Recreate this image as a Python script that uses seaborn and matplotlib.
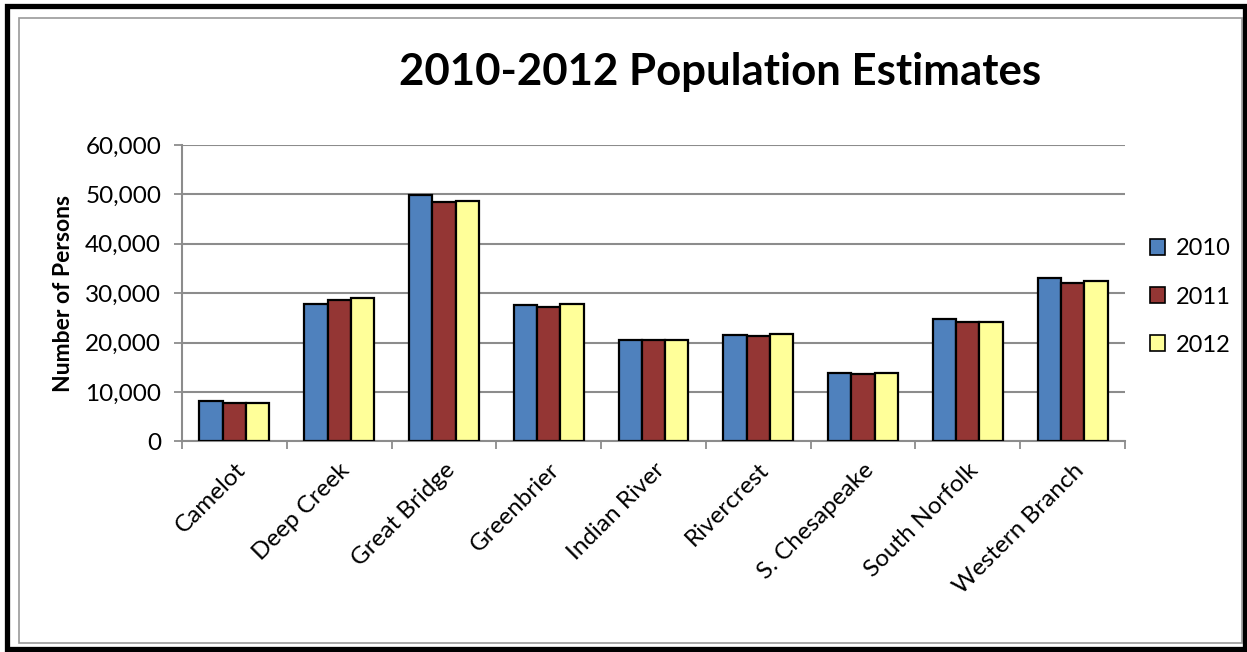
import matplotlib
matplotlib.use("Agg")
import matplotlib.pyplot as plt
from matplotlib.patches import Rectangle
from matplotlib.ticker import FuncFormatter, FixedLocator
import seaborn as sns
import pandas as pd

# Population estimates by borough, 2010-2012
boroughs = ["Camelot", "Deep Creek", "Great Bridge", "Greenbrier", "Indian River",
            "Rivercrest", "S. Chesapeake", "South Norfolk", "Western Branch"]
years = ["2010", "2011", "2012"]
pop_2010 = [8200, 27800, 49900, 27600, 20500, 21500, 13750, 24750, 33100]
pop_2011 = [7700, 28600, 48550, 27100, 20500, 21350, 13600, 24100, 32150]
pop_2012 = [7700, 29000, 48700, 27850, 20500, 21750, 13750, 24200, 32550]
y_ticks = [0, 10000, 20000, 30000, 40000, 50000, 60000]

df = pd.DataFrame({
    "Borough": boroughs * 3,
    "Year": [y for y in years for _ in boroughs],
    "Persons": pop_2010 + pop_2011 + pop_2012,
})

palette = {"2010": "#4F81BD", "2011": "#943634", "2012": "#FFFF99"}

sns.set_theme(style="white")
plt.rcParams["font.family"] = ["Lato", "DejaVu Sans"]
plt.rcParams["text.color"] = "black"
plt.rcParams["axes.labelcolor"] = "black"
plt.rcParams["xtick.labelcolor"] = "black"
plt.rcParams["ytick.labelcolor"] = "black"

W, H = 1247, 652
fig = plt.figure(figsize=(W / 100, H / 100), dpi=100)
ax = fig.add_axes([182 / W, 1 - 441.3 / H, (1125 - 182) / W, (441.3 - 145) / H])

sns.barplot(data=df, x="Borough", y="Persons", hue="Year", order=boroughs,
            hue_order=years, palette=palette, width=0.667, gap=0,
            edgecolor="black", linewidth=1.6, saturation=1, ax=ax, zorder=3)

ax.set_ylim(0, 60000)
ax.set_xlim(-0.5, len(boroughs) - 0.5)
ax.yaxis.set_major_locator(FixedLocator(y_ticks))
ax.yaxis.set_major_formatter(FuncFormatter(lambda v, p: f"{int(v):,}"))
ax.grid(axis="y", color="#8c8c8c", linewidth=1.5, zorder=0)
ax.set_axisbelow(True)

for side in ("top", "right"):
    ax.spines[side].set_visible(False)
for side in ("left", "bottom"):
    ax.spines[side].set_color("#8c8c8c")
    ax.spines[side].set_linewidth(1.5)

ax.tick_params(axis="y", which="major", direction="out", length=6, width=1.3,
               color="#8c8c8c", labelsize=17.5, pad=9, left=True)
ax.set_xticks(range(len(boroughs)))
ax.set_xticks([i - 0.5 for i in range(len(boroughs) + 1)], minor=True)
ax.tick_params(axis="x", which="major", length=0, pad=13)
ax.tick_params(axis="x", which="minor", direction="out", length=6, width=1.3,
               color="#8c8c8c", bottom=True)
ax.set_xticklabels(boroughs, rotation=45, ha="right", rotation_mode="anchor",
                   fontsize=17.5)
ax.set_xlabel("")
ax.set_ylabel("Number of Persons", fontsize=16.5, fontweight="bold", labelpad=8)

leg = ax.legend(loc="center left", bbox_to_anchor=(1.004, 0.487), frameon=False,
                fontsize=17, handlelength=0.65, handleheight=0.65,
                handletextpad=0.45, labelspacing=1.15)
for h in leg.legend_handles:
    h.set_edgecolor("black")
    h.set_linewidth(1.2)

fig.text(720 / W, 1 - 72 / H, "2010-2012 Population Estimates", ha="center",
         va="center", fontsize=31.5, fontweight="bold")

# Frames around the chart
fig.patches.append(Rectangle((19 / W, 1 - 643 / H), (1242 - 19) / W, (643 - 18) / H,
                             transform=fig.transFigure, fill=False,
                             edgecolor="#999999", linewidth=1.2))
fig.patches.append(Rectangle((6.5 / W, 1 - 649 / H), (1245 - 6.5) / W, (649 - 5.5) / H,
                             transform=fig.transFigure, fill=False,
                             edgecolor="black", linewidth=3.8))

fig.savefig("out.png", dpi=100)
